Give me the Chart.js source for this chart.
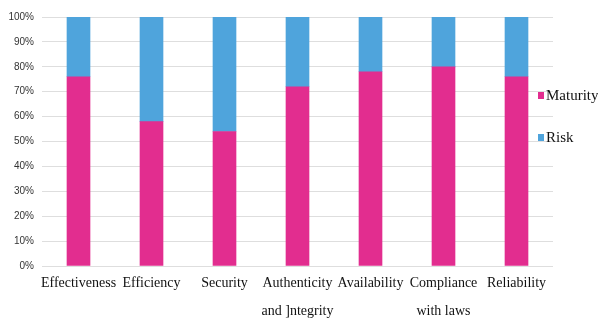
<!DOCTYPE html>
<html lang="en">
<head>
    <meta charset="UTF-8">
    <title>Maturity vs Risk</title>
    <script src="https://cdn.jsdelivr.net/npm/chart.js@4.4.0/dist/chart.umd.min.js"></script>
    <style>
        html, body { margin: 0; padding: 0; background: #fff; }
        .wrap { position: relative; width: 598px; height: 320px; }
        .legend { position: absolute; left: 538px; top: 84px; font-family: 'Liberation Serif', serif; font-size: 15px; color: #111; }
        .legend-item { display: flex; align-items: center; height: 22px; margin-bottom: 20px; }
        .legend-box { width: 6px; height: 7px; margin-right: 2px; }
    </style>
</head>
<body>
    <div class="wrap">
        <canvas id="chart" width="598" height="320"></canvas>
        <div id="legend" class="legend"></div>
    </div>
    <script>
        // 数据
        const categories = [
            'Effectiveness', 'Efficiency', 'Security', ['Authenticity', 'and ]ntegrity'],
            'Availability', ['Compliance', 'with laws'], 'Reliability'
        ];
        const maturity = [76, 58, 54, 72, 78, 80, 76];
        const risk = [24, 42, 46, 28, 22, 20, 24];
        const yTicks = [0, 10, 20, 30, 40, 50, 60, 70, 80, 90, 100];

        const pink = '#e22d8f';
        const blue = '#4fa4dc';

        const chart = new Chart(document.getElementById('chart'), {
            type: 'bar',
            data: {
                labels: categories,
                datasets: [
                    { label: 'Maturity', data: maturity, backgroundColor: pink },
                    { label: 'Risk', data: risk, backgroundColor: blue }
                ]
            },
            options: {
                responsive: false,
                animation: false,
                layout: { padding: { top: 17, right: 45, left: 0, bottom: 0 } },
                datasets: { bar: { barThickness: 23 } },
                plugins: {
                    legend: { display: false },
                    tooltip: { enabled: false }
                },
                scales: {
                    x: {
                        stacked: true,
                        grid: { display: false, drawTicks: false },
                        border: { display: false },
                        ticks: {
                            autoSkip: false,
                            maxRotation: 0,
                            padding: 3,
                            color: '#111',
                            font: { family: 'Liberation Serif', size: 14, lineHeight: 2 }
                        },
                        afterFit: s => { s.height = 54; }
                    },
                    y: {
                        stacked: true,
                        min: 0,
                        max: 100,
                        afterBuildTicks: s => { s.ticks = yTicks.map(v => ({ value: v })); },
                        grid: { color: '#dedede', drawTicks: false },
                        border: { display: false },
                        ticks: {
                            padding: 8,
                            color: '#333',
                            font: { family: "'Liberation Sans Narrow', 'Liberation Sans', sans-serif", size: 10 },
                            callback: v => v + '%'
                        },
                        afterFit: s => { s.width = 42; }
                    }
                }
            }
        });

        // 图例
        const legendEl = document.getElementById('legend');
        chart.data.datasets.forEach(ds => {
            const item = document.createElement('div');
            item.className = 'legend-item';
            item.innerHTML = `<span class="legend-box" style="background:${ds.backgroundColor}"></span><span>${ds.label}</span>`;
            legendEl.appendChild(item);
        });
    </script>
</body>
</html>
